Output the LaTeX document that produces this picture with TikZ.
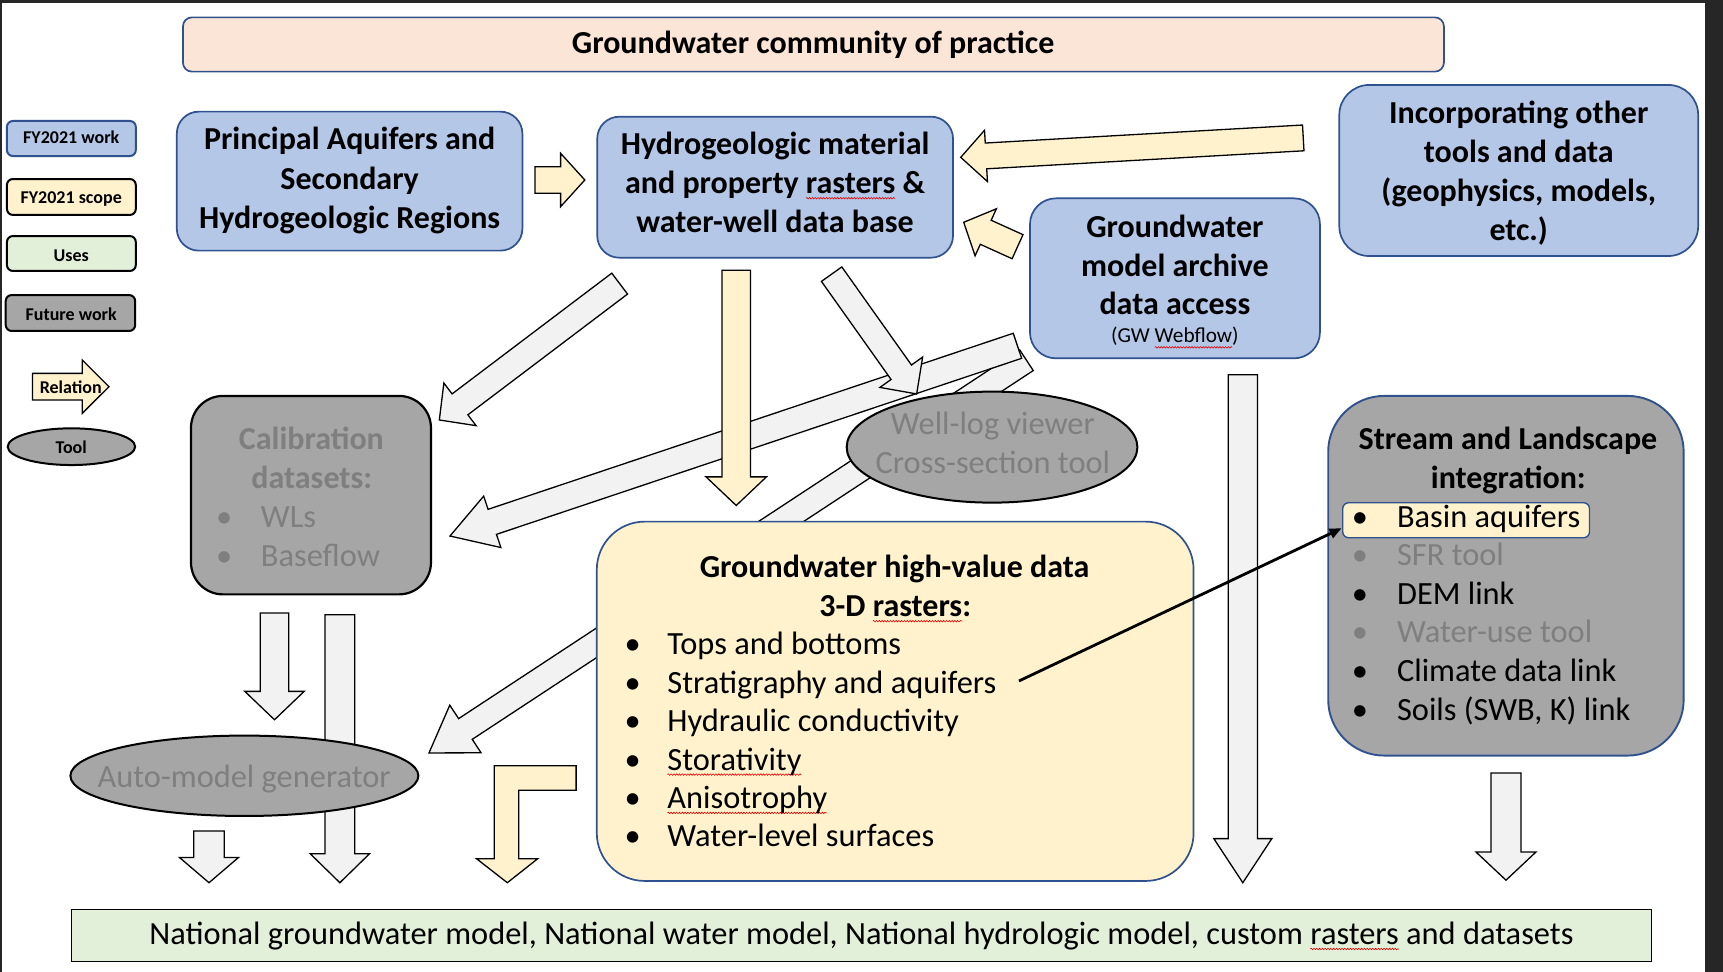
\documentclass[tikz,border=0pt]{standalone}
\usepackage{fontspec}
\setmainfont{Carlito}
\usetikzlibrary{calc,fit,shapes.geometric,decorations.pathmorphing,arrows.meta}
\definecolor{blufill}{HTML}{B4C7E7}
\definecolor{bluline}{HTML}{2F528F}
\definecolor{yelfill}{HTML}{FFF2CC}
\definecolor{peach}{HTML}{FBE5D6}
\definecolor{grnfill}{HTML}{E2F0D9}
\definecolor{gryfill}{HTML}{A6A6A6}
\definecolor{grytext}{HTML}{7F7F7F}
\definecolor{arrfill}{HTML}{F2F2F2}
\definecolor{framecol}{HTML}{262626}
\tikzset{squig/.style={draw=red!90!black,line width=0.6pt,decorate,decoration={snake,amplitude=0.75pt,segment length=2.8pt}}}
\newsavebox{\sqbox}
\newlength{\sqlen}
\newcommand{\sqw}[1]{\sbox{\sqbox}{#1}\setlength{\sqlen}{\wd\sqbox}\leavevmode\rlap{\tikz[overlay,baseline=0pt]\draw[squig](0pt,-4.5pt)--(\sqlen,-4.5pt);}\usebox{\sqbox}}
\newcommand{\szA}{\fontsize{32}{39}\selectfont}
\newcommand{\szR}{\fontsize{32.4}{39}\selectfont}
\newcommand{\szB}{\fontsize{18}{22}\selectfont}
\newcommand{\szC}{\fontsize{21.3}{26}\selectfont}
% block arrow: #1 start, #2 tip, #3 body half width, #4 head half width, #5 head length, #6 style
\newcommand{\blockarr}[6]{%
 \draw[#6] ($(#1)!#3!90:(#2)$) -- ($(#2)!#5!(#1)!#3!-90:(#1)$) -- ($(#2)!#5!(#1)!#4!-90:(#1)$) -- (#2) -- ($(#2)!#5!(#1)!#4!90:(#1)$) -- ($(#2)!#5!(#1)!#3!90:(#1)$) -- ($(#1)!#3!-90:(#2)$) -- cycle;}
\begin{document}
\begin{tikzpicture}[x=1.09885pt,y=-1.09885pt,
 every node/.style={inner sep=0pt,outer sep=0pt},
 garrow/.style={draw=black,fill=arrfill,line width=1.3pt,line join=miter},
 yarrow/.style={draw=black,fill=yelfill,line width=1.3pt,line join=miter},
 bluebox/.style={draw=bluline,fill=blufill,line width=1.7pt},
 titlebox/.style={draw=bluline,fill=peach,line width=1.7pt,rounded corners=9pt},
 hvbox/.style={draw=bluline,fill=yelfill,line width=1.7pt,rounded corners=48pt},
 futbox/.style={draw=black,fill=gryfill,line width=2.2pt,rounded corners=32pt},
 strbox/.style={draw=bluline,fill=gryfill,line width=1.9pt,rounded corners=56pt},
 legbox/.style={line width=2pt,rounded corners=6pt},
 toolell/.style={ellipse,draw=black,fill=gryfill,line width=2pt},
 tB/.style={anchor=base,font=\szA\bfseries},
 tR/.style={anchor=base,font=\szR},
 tL/.style={anchor=base west,font=\szR},
 tLeg/.style={anchor=base,font=\szB\bfseries},
 gry/.style={text=grytext}]
\useasboundingbox (0,0) rectangle (1568,884.56);
\fill[white] (0,0) rectangle (1568,884.56);
\fill[framecol] (0,0) rectangle (1568,3.1);
\fill[framecol] (0,0) rectangle (1.6,884.56);
\fill[framecol] (1551.6,0) rectangle (1568,884.56);

% ---------- arrow end points ----------
\coordinate (gS) at (934.1,327.8); \coordinate (gT) at (390.4,685.2);
\coordinate (fS) at (925.9,314.7); \coordinate (fT) at (409.5,487.8);
\coordinate (eS) at (563.9,258.1); \coordinate (eT) at (399.8,382.2);
\coordinate (hS) at (756.8,249.5); \coordinate (hT) at (834.2,358.5);
\coordinate (iS) at (1131,341);    \coordinate (iT) at (1131,803.3);
\coordinate (jS) at (1370.5,703.5); \coordinate (jT) at (1370.5,801);
\coordinate (k1S) at (249.8,557.8); \coordinate (k1T) at (249.8,655);
\coordinate (k2S) at (309.3,559.5); \coordinate (k2T) at (309.3,803.3);
\coordinate (k3S) at (190.2,756.2); \coordinate (k3T) at (190.2,803.3);
\coordinate (aS) at (486.9,163.8); \coordinate (aT) at (532.2,163.8);
\coordinate (bS) at (1186,125.5);  \coordinate (bT) at (874.3,143.2);
\coordinate (cS) at (926,224.5);   \coordinate (cT) at (877,202.3);
\coordinate (dS) at (670,246);     \coordinate (dT) at (670,460);
\coordinate (rS) at (29.6,351.9);  \coordinate (rT) at (99.2,351.9);

% ---------- block arrows ----------
\blockarr{gS}{gT}{12.4pt}{28.5pt}{43.6pt}{garrow}
\blockarr{fS}{fT}{13.2pt}{27.1pt}{44.6pt}{garrow}
\blockarr{eS}{eT}{13.1pt}{26.7pt}{25.9pt}{garrow}
\blockarr{hS}{hT}{12.5pt}{26.2pt}{26.6pt}{garrow}
\blockarr{dS}{dT}{14.3pt}{30.2pt}{28.6pt}{yarrow}
\blockarr{iS}{iT}{14.6pt}{29pt}{44.1pt}{garrow}
\blockarr{jS}{jT}{15pt}{30pt}{28.2pt}{garrow}
\blockarr{k1S}{k1T}{14.2pt}{29.7pt}{28.4pt}{garrow}
\blockarr{k2S}{k2T}{14.8pt}{29.6pt}{28.9pt}{garrow}
\blockarr{k3S}{k3T}{15.2pt}{29.6pt}{25.3pt}{garrow}
\blockarr{aS}{aT}{13.3pt}{26.7pt}{24.2pt}{yarrow}
\blockarr{bS}{bT}{12.9pt}{25.7pt}{25.3pt}{yarrow}
\blockarr{cS}{cT}{13.2pt}{25.8pt}{24.2pt}{yarrow}
\blockarr{rS}{rT}{13.3pt}{26.6pt}{26.7pt}{yarrow}
% bent arrow from the high-value box to the uses bar
\draw[yarrow] (449.8,696.9) -- (524.3,696.9) -- (524.3,719.2) -- (472.1,719.2) -- (472.1,781.4) -- (489.4,781.4) -- (461.7,803.3) -- (433.6,781.4) -- (449.8,781.4) -- cycle;

% ---------- boxes ----------
\node[titlebox,fit={(166.5,15.8)(1314,65.2)}] (title) {};
\node[bluebox,rounded corners=22pt,fit={(160.9,101.6)(475.4,228.1)}] (pa) {};
\node[bluebox,rounded corners=22pt,fit={(543.5,106.2)(867.3,234.5)}] (hydro) {};
\node[bluebox,rounded corners=30pt,fit={(1218.8,77.3)(1545.4,233)}] (incorp) {};
\node[bluebox,rounded corners=26pt,fit={(937.3,180.5)(1201.2,326.1)}] (gwma) {};
\node[futbox,fit={(173.8,360.3)(392.2,540.9)}] (calib) {};
\node[toolell,minimum width=290.7pt,minimum height=111pt] (welllog) at (902.8,406.9) {};
\node[hvbox,fit={(543.1,474.7)(1086.2,801.7)}] (hv) {};
\node[strbox,fit={(1208.7,360.3)(1532.2,687.6)}] (stream) {};
\node[draw=bluline,fill=yelfill,line width=1.4pt,rounded corners=6pt,fit={(1221.9,457.5)(1446.5,489.4)}] (basin) {};
\node[toolell,minimum width=348pt,minimum height=80.4pt] (auto) at (222.4,706) {};
\node[draw=black,fill=grnfill,line width=1.3pt,fit={(64.8,827.7)(1503,874.8)}] (uses) {};
% legend
\node[legbox,draw=bluline,fill=blufill,fit={(6.3,110.1)(123.6,142)}] (lg1) {};
\node[legbox,draw=black,fill=yelfill,fit={(6.3,162.9)(123.6,195.6)}] (lg2) {};
\node[legbox,draw=black,fill=grnfill,fit={(6.3,214.8)(123.6,246.6)}] (lg3) {};
\node[legbox,draw=black,fill=gryfill,fit={(5.2,268.5)(123,301.2)}] (lg4) {};
\node[toolell,minimum width=127.5pt,minimum height=36.7pt] (lg6) at (65,406.5) {};

% ---------- connector to basin aquifers ----------
\coordinate (strat) at (927.3,619.7);
\coordinate (basinin) at (1220.8,480.8);
\draw[line width=2.8pt,-{Triangle[length=12pt,width=10pt]}] (strat) -- (basinin);

% ---------- texts ----------
\node[tB] (t-title) at (740,48.8) {Groundwater community of practice};
\node[tB] (t-pa1) at (318.2,136.5) {Principal Aquifers and};
\node[tB] (t-pa2) at (318.2,172) {Secondary};
\node[tB] (t-pa3) at (318.2,207.5) {Hydrogeologic Regions};
\node[tB] (t-hy1) at (705.4,141) {Hydrogeologic material};
\node[tB] (t-hy2) at (705.4,176.3) {and property \sqw{rasters} \&};
\node[tB] (t-hy3) at (705.4,211.7) {water-well data base};
\node[tB] (t-in1) at (1382.1,112.3) {Incorporating other};
\node[tB] (t-in2) at (1382.1,147.7) {tools and data};
\node[tB] (t-in3) at (1382.1,183.1) {(geophysics, models,};
\node[tB] (t-in4) at (1382.1,218.5) {etc.)};
\node[tB] (t-gw1) at (1069.2,216.5) {Groundwater};
\node[tB] (t-gw2) at (1069.2,251.5) {model archive};
\node[tB] (t-gw3) at (1069.2,286.5) {data access};
\node[anchor=base,font=\szC] (t-gw4) at (1069.2,312) {(GW \sqw{Webflow})};

\node[tB,gry] (t-ca1) at (283.4,409.5) {Calibration};
\node[tB,gry] (t-ca2) at (283.7,444.8) {datasets:};
\node[tR,gry] (b-ca1) at (204,480.1) {\textbullet};
\node[tL,gry] (t-ca3) at (237.5,480.1) {WLs};
\node[tR,gry] (b-ca2) at (204,515.4) {\textbullet};
\node[tL,gry] (t-ca4) at (237.5,515.4) {Baseflow};

\node[tR,gry] (t-wl1) at (903.6,395.8) {Well-log viewer};
\node[tR,gry] (t-wl2) at (903.6,430.7) {Cross-section tool};

\node[tB] (t-hv1) at (814.1,525.4) {Groundwater high-value data};
\node[tB] (t-hv2) at (814.7,561.2) {3-D \sqw{rasters}:};
\node[tR] (b-hv1) at (575.7,596) {\textbullet};   \node[tL] (t-hv3) at (607.4,596) {Tops and bottoms};
\node[tR] (b-hv2) at (575.7,631) {\textbullet};   \node[tL] (t-hv4) at (607.4,631) {Stratigraphy and aquifers};
\node[tR] (b-hv3) at (575.7,665.9) {\textbullet}; \node[tL] (t-hv5) at (607.4,665.9) {Hydraulic conductivity};
\node[tR] (b-hv4) at (575.7,700.8) {\textbullet}; \node[tL] (t-hv6) at (607.4,700.8) {\sqw{Storativity}};
\node[tR] (b-hv5) at (575.7,735.7) {\textbullet}; \node[tL] (t-hv7) at (607.4,735.7) {\sqw{Anisotrophy}};
\node[tR] (b-hv6) at (575.7,770.6) {\textbullet}; \node[tL] (t-hv8) at (607.4,770.6) {Water-level surfaces};

\node[tB] (t-st1) at (1372.3,409.3) {Stream and Landscape};
\node[tB] (t-st2) at (1372.6,444.7) {integration:};
\node[tR] (b-st1) at (1237.6,479.8) {\textbullet};     \node[tL] (t-st3) at (1271.4,479.8) {Basin aquifers};
\node[tR,gry] (b-st2) at (1237.6,514.9) {\textbullet}; \node[tL,gry] (t-st4) at (1271.4,514.9) {SFR tool};
\node[tR] (b-st3) at (1237.6,550) {\textbullet};       \node[tL] (t-st5) at (1271.4,550) {DEM link};
\node[tR,gry] (b-st4) at (1237.6,585.1) {\textbullet}; \node[tL,gry] (t-st6) at (1271.4,585.1) {Water-use tool};
\node[tR] (b-st5) at (1237.6,620.2) {\textbullet};     \node[tL] (t-st7) at (1271.4,620.2) {Climate data link};
\node[tR] (b-st6) at (1237.6,655.3) {\textbullet};     \node[tL] (t-st8) at (1271.4,655.3) {Soils (SWB, K) link};

\node[tR,gry] (t-au) at (222.2,716.8) {Auto-model generator};
\node[tR] (t-use) at (783.9,859.5) {National groundwater model, National water model, National hydrologic model, custom \sqw{rasters} and datasets};

\node[tLeg] (t-lg1) at (64.8,130.9) {FY2021 work};
\node[tLeg] (t-lg2) at (64.8,184.9) {FY2021 scope};
\node[tLeg] (t-lg3) at (64.8,237.7) {Uses};
\node[tLeg] (t-lg4) at (64.8,291.6) {Future work};
\node[tLeg] (t-lg5) at (64.4,357.8) {Relation};
\node[tLeg] (t-lg6) at (64.8,413) {Tool};
\end{tikzpicture}
\end{document}
